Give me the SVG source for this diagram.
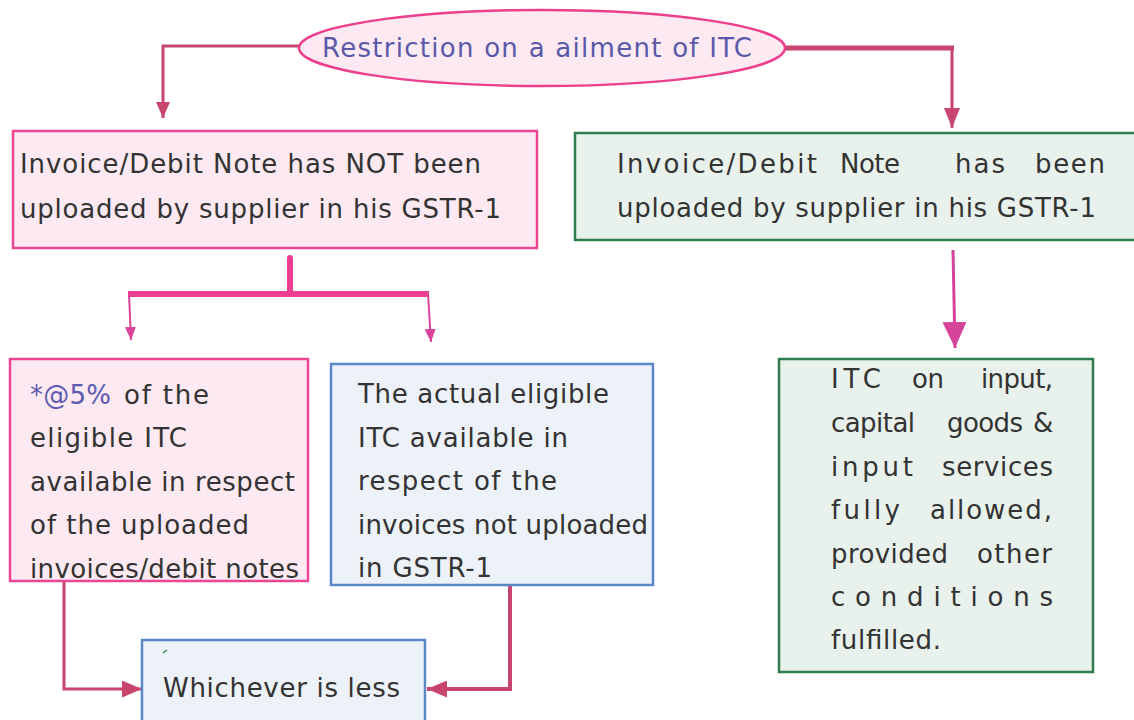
<svg xmlns="http://www.w3.org/2000/svg" width="1134" height="720" viewBox="0 0 1134 720">
<style>
  text { font-family: "DejaVu Sans", "Liberation Sans", sans-serif; font-size: 26px; fill: #333333; }
  .ttl { fill: #5a58a8; }
  .pur { fill: #5d5ab0; }
  .pink { fill: #fce9f1; stroke: #ec4593; stroke-width: 2.5; }
  .green { fill: #e8f1ec; stroke: #2f7d4e; stroke-width: 2.5; }
  .blue { fill: #edf1f8; stroke: #5b87c9; stroke-width: 2.5; }
  .rasp { fill: none; stroke: #c8456e; stroke-width: 3; }
  .mag { fill: none; stroke: #ec3f93; stroke-width: 6; }
</style>
<defs>
  <marker id="mL" markerUnits="userSpaceOnUse" markerWidth="16" markerHeight="14" refX="16" refY="7" orient="auto"><path d="M0,0 L16,7 L0,14 z" fill="#c8456e"/></marker>
  <marker id="mR" markerUnits="userSpaceOnUse" markerWidth="20" markerHeight="16" refX="20" refY="8" orient="auto"><path d="M0,0 L20,8 L0,16 z" fill="#c8456e"/></marker>
  <marker id="mS" markerUnits="userSpaceOnUse" markerWidth="13" markerHeight="11" refX="13" refY="5.5" orient="auto"><path d="M0,0 L13,5.5 L0,11 z" fill="#d9449a"/></marker>
  <marker id="mB" markerUnits="userSpaceOnUse" markerWidth="26" markerHeight="24" refX="26" refY="12" orient="auto"><path d="M0,0 L26,12 L0,24 z" fill="#d6449a"/></marker>
  <marker id="mI" markerUnits="userSpaceOnUse" markerWidth="20" markerHeight="17" refX="20" refY="8.5" orient="auto"><path d="M0,0 L20,8.5 L0,17 z" fill="#c8456e"/></marker>
</defs>

<g id="connectors">
  <path class="rasp" d="M299,46 H163 V118" marker-end="url(#mL)"/>
  <path class="rasp" d="M785,48 H954" style="stroke-width:5"/>
  <path class="rasp" d="M952,46 V128" marker-end="url(#mR)"/>
  <path class="mag" d="M290,258 V294" stroke-linecap="round"/>
  <path class="mag" d="M128,294 H429"/>
  <path d="M129,294 L131,340" fill="none" stroke="#d9449a" stroke-width="2" marker-end="url(#mS)"/>
  <path d="M428,294 L431,342" fill="none" stroke="#d9449a" stroke-width="2" marker-end="url(#mS)"/>
  <path d="M953,250 L955,348" fill="none" stroke="#d6449a" stroke-width="3" marker-end="url(#mB)"/>
  <path class="rasp" d="M64,581 V689 H142" marker-end="url(#mI)"/>
  <path class="rasp" d="M510,586 V689 H427" style="stroke-width:4" marker-end="url(#mI)"/>
</g>

<g id="node-title">
  <ellipse class="pink" cx="542" cy="48" rx="243" ry="38" style="stroke:#ec3f8d"/>
  <text class="ttl" x="322" y="57" textLength="430" lengthAdjust="spacing">Restriction on a ailment of ITC</text>
</g>

<g id="node-not-uploaded">
  <rect class="pink" x="13" y="131" width="524" height="117"/>
  <text x="20" y="173" textLength="461" lengthAdjust="spacing">Invoice/Debit Note has NOT been</text>
  <text x="20" y="218" textLength="481" lengthAdjust="spacing">uploaded by supplier in his GSTR-1</text>
</g>

<g id="node-uploaded">
  <rect class="green" x="575" y="133" width="575" height="107"/>
  <text y="173"><tspan x="617" textLength="200" lengthAdjust="spacing">Invoice/Debit</tspan><tspan x="840" textLength="60" lengthAdjust="spacing">Note</tspan><tspan x="955" textLength="50" lengthAdjust="spacing">has</tspan><tspan x="1035" textLength="70" lengthAdjust="spacing">been</tspan></text>
  <text x="617" y="217" textLength="479" lengthAdjust="spacing">uploaded by supplier in his GSTR-1</text>
</g>

<g id="node-five-percent">
  <rect class="pink" x="10" y="359" width="298" height="222"/>
  <text x="30" y="404"><tspan class="pur" textLength="81" lengthAdjust="spacing">*@5%</tspan><tspan x="124" textLength="85" lengthAdjust="spacing">of the</tspan></text>
  <text x="30" y="447" textLength="157" lengthAdjust="spacing">eligible ITC</text>
  <text x="30" y="491" textLength="265" lengthAdjust="spacing">available in respect</text>
  <text x="30" y="534" textLength="219" lengthAdjust="spacing">of the uploaded</text>
  <text x="30" y="578" textLength="269" lengthAdjust="spacing">invoices/debit notes</text>
</g>

<g id="node-actual">
  <rect class="blue" x="331" y="364" width="322" height="221"/>
  <text x="358" y="403" textLength="251" lengthAdjust="spacing">The actual eligible</text>
  <text x="358" y="447" textLength="210" lengthAdjust="spacing">ITC available in</text>
  <text x="358" y="490" textLength="199" lengthAdjust="spacing">respect of the</text>
  <text x="358" y="534" textLength="290" lengthAdjust="spacing">invoices not uploaded</text>
  <text x="358" y="577" textLength="134" lengthAdjust="spacing">in GSTR-1</text>
</g>

<g id="node-full">
  <rect class="green" x="779" y="359" width="314" height="313"/>
  <text y="388"><tspan x="831" textLength="50" lengthAdjust="spacing">ITC</tspan><tspan x="912" textLength="32" lengthAdjust="spacing">on</tspan><tspan x="981" textLength="72" lengthAdjust="spacing">input,</tspan></text>
  <text y="432"><tspan x="831" textLength="84" lengthAdjust="spacing">capital</tspan><tspan x="947" textLength="76" lengthAdjust="spacing">goods</tspan><tspan x="1033" textLength="20" lengthAdjust="spacing">&amp;</tspan></text>
  <text y="476"><tspan x="831" textLength="82" lengthAdjust="spacing">input</tspan><tspan x="942" textLength="111" lengthAdjust="spacing">services</tspan></text>
  <text y="519"><tspan x="831" textLength="69" lengthAdjust="spacing">fully</tspan><tspan x="930" textLength="122" lengthAdjust="spacing">allowed,</tspan></text>
  <text y="563"><tspan x="831" textLength="117" lengthAdjust="spacing">provided</tspan><tspan x="977" textLength="75" lengthAdjust="spacing">other</tspan></text>
  <text x="831" y="606" textLength="222" lengthAdjust="spacing">conditions</text>
  <text x="831" y="649" textLength="110" lengthAdjust="spacing">fulfilled.</text>
</g>

<g id="node-whichever">
  <rect class="blue" x="142" y="640" width="283" height="90"/>
  <path d="M163,653 L167,650" stroke="#2f8a4e" stroke-width="1.5" fill="none"/>
  <text x="163" y="697" textLength="237" lengthAdjust="spacing">Whichever is less</text>
</g>
</svg>
